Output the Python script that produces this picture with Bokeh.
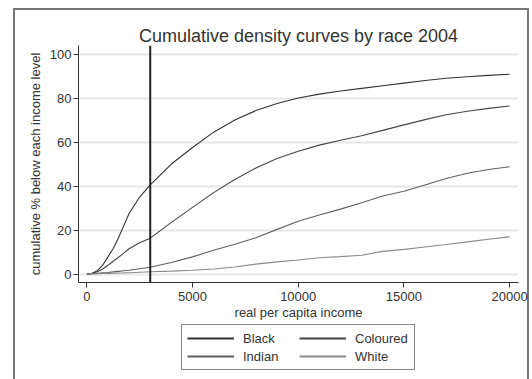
from bokeh.plotting import figure
from bokeh.layouts import column
from bokeh.models import Range1d, Span, Legend, LegendItem, FixedTicker
from bokeh.embed import file_html
from bokeh.resources import INLINE

income = [0, 250, 500, 750, 1000, 1250, 1500, 1750, 2000, 2500, 3000, 4000, 5000, 6000, 7000,
          8000, 9000, 10000, 11000, 12000, 13000, 14000, 15000, 16000, 17000, 18000, 19000, 20000]
black = [0, 0.3, 1.5, 4, 7.8, 11.6, 16.5, 22, 27.5, 35, 40.5, 50, 57.5, 64.5, 70,
         74.3, 77.5, 80, 81.8, 83.2, 84.4, 85.6, 86.8, 88, 89, 89.7, 90.3, 90.8]
coloured = [0, 0.3, 1, 2.3, 4, 5.8, 7.6, 9.5, 11.5, 14.2, 16.3, 23.5, 30.3, 37, 43,
            48.2, 52.5, 55.8, 58.6, 60.8, 62.9, 65.3, 67.8, 70.2, 72.4, 74, 75.3, 76.4]
indian = [0, 0.15, 0.3, 0.5, 0.7, 0.95, 1.2, 1.45, 1.7, 2.4, 3.1, 5.2, 7.8, 10.8, 13.5,
          16.5, 20.3, 24, 26.8, 29.5, 32.4, 35.5, 37.6, 40.5, 43.4, 45.8, 47.5, 48.8]
white = [0, 0.08, 0.15, 0.22, 0.3, 0.37, 0.45, 0.52, 0.6, 0.8, 1.0, 1.3, 1.7, 2.3, 3.2,
         4.5, 5.5, 6.4, 7.4, 7.9, 8.5, 10.3, 11.2, 12.3, 13.4, 14.6, 15.8, 16.9]
races = ["Black", "Coloured", "Indian", "White"]
series = [black, coloured, indian, white]
poverty_line = 3000
x_ticks = [0, 5000, 10000, 15000, 20000]
y_ticks = [0, 20, 40, 60, 80, 100]

FONT = "Liberation Sans"
TXT = "#333333"
BOX = "#777777"
COLORS = ["#333333", "#454545", "#606060", "#8a8a8a"]

W, H_MAIN, H_LEG = 532, 322, 57

p = figure(width=W, height=H_MAIN, output_backend="svg", toolbar_location=None,
           x_range=Range1d(-393, 20421), y_range=Range1d(-3.86, 103.9),
           min_border_left=78, min_border_right=14, min_border_top=45, min_border_bottom=40,
           title="Cumulative density curves by race 2004")
p.background_fill_color = "white"
p.border_fill_alpha = 0
p.outline_line_color = None

p.title.align = "center"
p.title.text_font = FONT
p.title.text_font_size = "18px"
p.title.text_font_style = "normal"
p.title.text_color = TXT
p.title.standoff = 0

for ax in (p.xaxis[0], p.yaxis[0]):
    ax.axis_line_color = TXT
    ax.major_tick_line_color = TXT
    ax.minor_tick_line_color = None
    ax.major_tick_out = 5
    ax.major_tick_in = 0
    ax.major_label_text_font = FONT
    ax.major_label_text_font_size = "13px"
    ax.major_label_text_color = TXT
    ax.axis_label_text_font = FONT
    ax.axis_label_text_font_size = "13px"
    ax.axis_label_text_font_style = "normal"
    ax.axis_label_text_color = TXT

p.xaxis.ticker = FixedTicker(ticks=x_ticks)
p.yaxis.ticker = FixedTicker(ticks=y_ticks)
p.yaxis.major_label_orientation = "horizontal"
p.xaxis.major_label_standoff = 4
p.yaxis.major_label_standoff = 2
p.xaxis.axis_label = "real per capita income"
p.yaxis.axis_label = "cumulative % below each income level"
p.xaxis.axis_label_standoff = 1
p.yaxis.axis_label_standoff = 4

p.xgrid.grid_line_color = None
p.ygrid.grid_line_color = "#e6e6e6"
p.ygrid.grid_line_width = 2

for ys, c in zip(series, COLORS):
    p.line(income, ys, line_color=c, line_width=1.1)

p.add_layout(Span(location=poverty_line, dimension="height", line_color="#222222", line_width=2))

# legend strip below the plot (its lines sit outside the strip's visible range)
q = figure(width=W, height=H_LEG, output_backend="svg", toolbar_location=None,
           x_range=Range1d(100000, 100440), y_range=Range1d(0, H_LEG),
           min_border=0, x_axis_type=None, y_axis_type=None)
q.background_fill_alpha = 0
q.border_fill_alpha = 0
q.outline_line_color = None
q.grid.visible = False
items = []
for name, ys, c in zip(races, series, COLORS):
    r = q.line(income, ys, line_color=c, line_width=2)
    items.append(LegendItem(label=name, renderers=[r]))
legend = Legend(items=items, location=(103, 9), orientation="horizontal", ncols=2,
                label_text_font=FONT, label_text_font_size="13px", label_text_color=TXT,
                glyph_width=47, glyph_height=16, label_height=16, label_width=54,
                label_standoff=9, spacing=2, padding=5, margin=0,
                border_line_color="#111111", border_line_width=1,
                background_fill_color="white", background_fill_alpha=1)
q.add_layout(legend, "center")

layout = column(p, q, spacing=0)
layout.styles = {
    "background-color": "white",
    "background-image": ", ".join([f"linear-gradient({BOX}, {BOX})"] * 3),
    "background-repeat": "no-repeat",
    "background-size": "2px 400px, 516px 2px, 2px 400px",
    "background-position": "13px 8px, 13px 8px, 527px 8px",
}

open("out.html", "w").write(file_html(layout, INLINE))
